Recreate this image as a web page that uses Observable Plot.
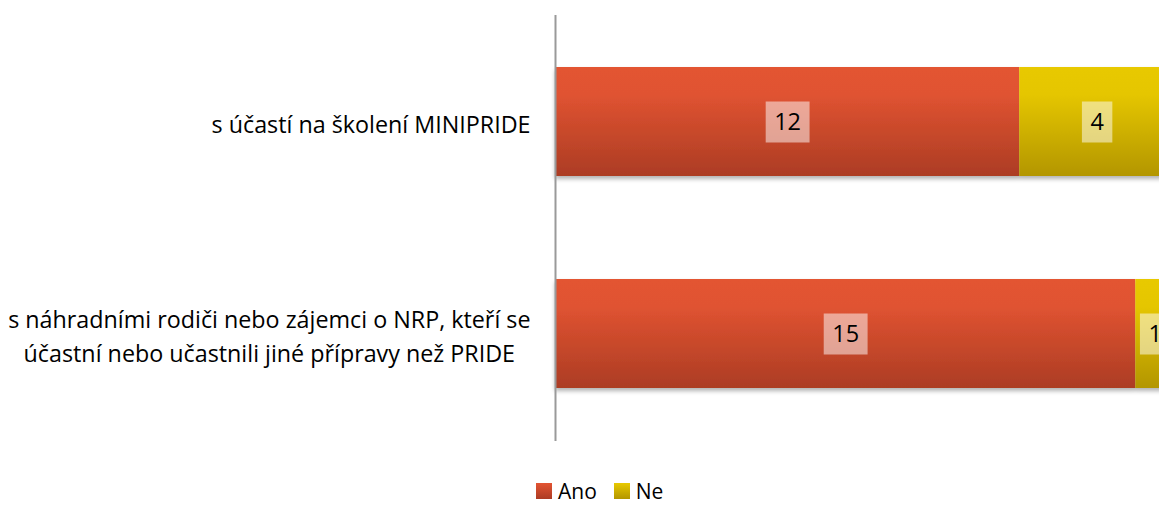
<!DOCTYPE html>
<html><head><meta charset="utf-8">
<script src="https://cdn.jsdelivr.net/npm/d3@7"></script>
<script src="https://cdn.jsdelivr.net/npm/@observablehq/plot@0.6"></script>
<style>
html,body{margin:0;padding:0;background:#fff;overflow:hidden;width:1159px;height:506px;position:relative}
#chart{position:absolute;left:0;top:0}
#chart svg{max-width:none !important}
#legend{position:absolute;left:536px;top:477px;display:flex;align-items:center;font-family:"Open Sans",Lato,sans-serif;font-size:21px;color:#000;line-height:normal}
#legend .item{display:flex;align-items:center;margin-right:17px}
#legend .sw{width:16px;height:16px;margin-right:6px}
</style></head>
<body><div id="chart"></div><div id="legend"></div>
<script>
const categories = [
  "s účastí na školení MINIPRIDE",
  "s náhradními rodiči nebo zájemci o NRP, kteří se\núčastní nebo učastnili jiné přípravy než PRIDE"
];
const series = ["Ano", "Ne"];
const anoValues = [12, 15];
const neValues = [4, 1];
const seriesTop = ["#e35432", "#e8c900"];
const seriesBottom = ["#ac3c24", "#b39600"];
const FONT = "'Open Sans', Lato, sans-serif";

const rows = [];
categories.forEach((c, i) => {
  rows.push({category: c, series: "Ano", value: anoValues[i]});
  rows.push({category: c, series: "Ne", value: neValues[i]});
});

const plot = Plot.plot({
  width: 1174, height: 460,
  marginLeft: 555, marginRight: 0, marginTop: 15, marginBottom: 19,
  x: {domain: [0, 16], axis: null},
  y: {domain: categories, paddingInner: 0.4836, paddingOuter: 0.242, label: null, axis: null},
  color: {type: "ordinal", domain: series, range: series.map(s => `url(#grad-${s})`)},
  style: {fontFamily: FONT, fontSize: "23.3px", color: "#000", background: "#fff", maxWidth: "none"},
  marks: [
    Plot.barX(rows, Plot.stackX({y: "category", x: "value", fill: "series"})),
    Plot.text(rows, Plot.stackX({y: "category", x: "value", z: "series", text: d => String(d.value), fill: "#000", fontSize: 23.5})),
    Plot.ruleX([0], {stroke: "#9a9a9a", strokeWidth: 2}),
    Plot.axisY({tickSize: 0, tickPadding: 25, lineHeight: 1.46, fontSize: 23.3})
  ]
});

document.getElementById("chart").appendChild(plot);
const svg = d3.select(plot);
const defs = svg.insert("defs", ":first-child");
series.forEach((s, i) => {
  const g = defs.append("linearGradient").attr("id", `grad-${s}`).attr("x1", 0).attr("y1", 0).attr("x2", 0).attr("y2", 1);
  g.append("stop").attr("offset", 0).attr("stop-color", seriesTop[i]);
  g.append("stop").attr("offset", 0.25).attr("stop-color", d3.interpolateRgb(seriesTop[i], seriesBottom[i])(0.05));
  g.append("stop").attr("offset", 1).attr("stop-color", seriesBottom[i]);
});
const f = defs.append("filter").attr("id", "shadow").attr("x", "-5%").attr("y", "-10%").attr("width", "110%").attr("height", "130%");
f.append("feDropShadow").attr("dx", 0).attr("dy", 3).attr("stdDeviation", 2).attr("flood-color", "#000").attr("flood-opacity", 0.3);
svg.selectAll("g[aria-label='bar']").attr("filter", "url(#shadow)");

// label boxes
svg.selectAll("g[aria-label='text'] text").each(function() {
  const bb = this.getBBox();
  d3.select(this.parentNode).insert("rect", () => this)
    .attr("transform", this.getAttribute("transform"))
    .attr("x", bb.x - 8.5).attr("y", -20.5)
    .attr("width", bb.width + 17).attr("height", 41)
    .attr("fill", "#fff").attr("fill-opacity", 0.5);
});

// center multi-line y labels within their right-aligned block
svg.selectAll("g[aria-label='y-axis tick label'] text").each(function() {
  const w = this.getBBox().width;
  d3.select(this).attr("text-anchor", "middle")
    .attr("transform", (this.getAttribute("transform") || "") + ` translate(${-w / 2},0)`);
});

// legend
const leg = d3.select("#legend");
series.forEach((s, i) => {
  const it = leg.append("div").attr("class", "item");
  it.append("div").attr("class", "sw").style("background", `linear-gradient(${seriesTop[i]}, ${seriesBottom[i]})`);
  it.append("span").text(s);
});
</script>
</body></html>
